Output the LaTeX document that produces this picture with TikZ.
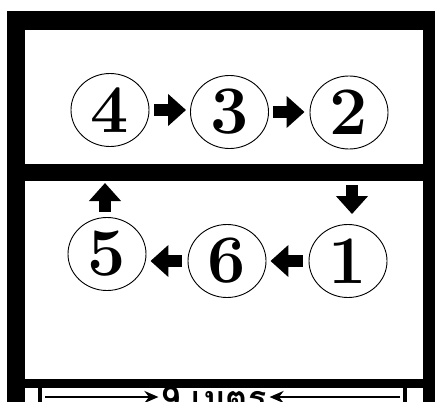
\documentclass[tikz,border=0pt]{standalone}
\usepackage{fontspec}
\newfontfamily\thaifont[Script=Thai]{Loma}
\usetikzlibrary{arrows.meta,shapes.geometric}
\begin{document}
\begin{tikzpicture}[x=1pt,y=-1pt,
  num/.style={ellipse,draw,line width=0.9pt,minimum width=78pt,minimum height=73pt,inner sep=0pt,
    font=\fontsize{68}{68}\selectfont\bfseries},
  blockarrow/.style={line width=12pt,-{Triangle[length=18pt,width=31pt]}},
  dimarrow/.style={line width=2.4pt,-{Stealth[length=14pt,width=12pt]}},
  dimtext/.style={anchor=north,inner sep=0pt,font=\thaifont\bfseries\fontsize{34}{34}\selectfont}]
\useasboundingbox (0,0) rectangle (435,401);
\clip (0,0) rectangle (435,401);
% frame and panels
\fill[black] (7,11) rectangle (435,420);
\fill[white] (25,30) rectangle (423,164);
\fill[white] (25,181) rectangle (423,379);
\fill[white] (25,388) rectangle (423,420);
\draw[line width=4pt] (40,386) rectangle (405,430);
% circles
\node[num] (c4) at (110,110) {4};
\node[num] (c3) at (229.5,112) {3};
\node[num] (c2) at (349,112.5) {2};
\node[num] (c5) at (107,254) {5};
\node[num] (c6) at (227,261) {6};
\node[num] (c1) at (348,261) {1};
% block arrows
\draw[blockarrow,shorten <=5pt,shorten >=4pt] (c4.east) -- (c4.east -| c3.west);
\draw[blockarrow,shorten <=4pt,shorten >=5pt] (c3.east) -- (c3.east -| c2.west);
\draw[blockarrow,shorten <=6pt,shorten >=4pt] (c1.west) -- (c1.west -| c6.east);
\draw[blockarrow,shorten <=6pt,shorten >=4pt] (c6.west) -- (c6.west -| c5.east);
\coordinate (in1) at (352,185);
\draw[blockarrow,shorten >=10pt] (in1) -- (in1 |- c1.north);
\coordinate (out5) at (105,183);
\draw[blockarrow,shorten <=5pt] (out5 |- c5.north) -- (out5);
% dimension
\node[dimtext] (dim) at (214,386) {9 เมตร};
\coordinate (dl) at (45,397);
\coordinate (dr) at (400,397);
\draw[dimarrow,shorten >=3pt] (dl) -- (dl -| dim.west);
\draw[dimarrow,shorten >=3pt] (dr) -- (dr -| dim.east);
\end{tikzpicture}
\end{document}
